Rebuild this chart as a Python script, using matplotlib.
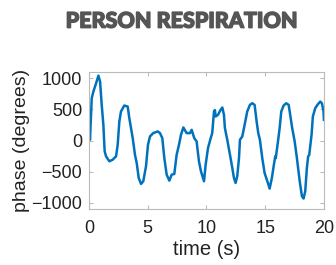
import matplotlib
matplotlib.use("Agg")
import matplotlib.pyplot as plt
import matplotlib.patheffects as pe

t = [0.0, 0.03, 0.08, 0.23, 0.37, 0.6, 0.8, 0.94, 1.08, 1.22, 1.33, 1.45, 1.73, 2.01, 2.3, 2.44, 2.58,
     2.72, 3.0, 3.29, 3.43, 3.72, 3.91, 4.06, 4.23, 4.43, 4.62, 4.85, 5.02, 5.19, 5.47, 5.85, 6.04,
     6.24, 6.41, 6.61, 6.84, 7.04, 7.26, 7.46, 7.66, 7.83, 8.03, 8.31, 8.6, 8.74, 8.96, 9.16, 9.36,
     9.53, 9.79, 9.93, 10.13, 10.36, 10.49, 10.64, 10.72, 10.78, 10.98, 11.2, 11.35, 11.49, 11.57,
     11.77, 12.0, 12.2, 12.34, 12.48, 12.62, 12.77, 12.85, 13.05, 13.25, 13.47, 13.7, 13.9, 14.1,
     14.27, 14.41, 14.55, 14.75, 14.95, 15.23, 15.38, 15.57, 15.74, 15.86, 15.9, 16.09, 16.23, 16.37,
     16.57, 16.79, 17.0, 17.13, 17.3, 17.51, 17.7, 17.87, 17.98, 18.13, 18.27, 18.41, 18.55, 18.66,
     18.75, 18.95, 19.06, 19.26, 19.49, 19.69, 19.83, 19.97, 20.0]
phase = [130, 147, 13, 680, 787, 920, 1043, 947, 573, 253, -173, -253, -333, -307, -253, -67, 307,
         467, 563, 547, 360, 40, -227, -360, -600, -696, -653, -413, -67, 67, 120, 147, 120,
         40, -280, -547, -643, -547, -536, -227, -67, 93, 211, 120, 120, 173, 40, -13, -333,
         -493, -653, -387, -120, 40, 120, 467, 490, 387, 413, 493, 531, 413, 200,
         13, -227, -440, -600, -680, -573, -280, 13, 67, 253, 467, 573, 600, 573,
         307, 120, 13, -280, -520, -680, -771, -600, -387, -253, -280, -13, 200, 467,
         563, 600, 573, 413, 200, -13, -280, -547, -707, -893, -931, -813, -440, -253,
         -230, 93, 387, 520, 584, 627, 600, 467, 333]
xticks = [0, 5, 10, 15, 20]
yticks = [-1000, -500, 0, 500, 1000]

fig = plt.figure(figsize=(3.36, 2.65), dpi=100)
ax = fig.add_axes([0.265, 0.211, 0.699, 0.517])
ax.plot(t, phase, color="#0072BD", lw=1.8)
ax.set_xlim(0, 20)
ax.set_ylim(-1100, 1100)
ax.set_xticks(xticks)
ax.set_yticks(yticks)
for s in ax.spines.values():
    s.set_color("#bbbbbb")
    s.set_linewidth(0.8)
font = ["Liberation Sans", "DejaVu Sans"]
ax.tick_params(direction="in", length=3, color="#bbbbbb", labelsize=13, top=True, right=True,
               labelcolor="#222222")
ax.tick_params(axis="x", pad=8)
ax.tick_params(axis="y", pad=5)
for lab in ax.get_xticklabels() + ax.get_yticklabels():
    lab.set_family(font)
ax.set_xlabel("time (s)", fontsize=14.5, labelpad=2, color="#222222", family=font)
ax.set_ylabel("phase (degrees)", fontsize=14, labelpad=1, color="#222222", family=font)
fig.text(0.54, 0.92, "PERSON RESPIRATION", ha="center", va="center", fontsize=15.5,
         fontweight="black", family=["Lato", "DejaVu Sans"], color="#555555",
         path_effects=[pe.withStroke(linewidth=1.0, foreground="#555555")])
fig.savefig("out.png", dpi=100)
